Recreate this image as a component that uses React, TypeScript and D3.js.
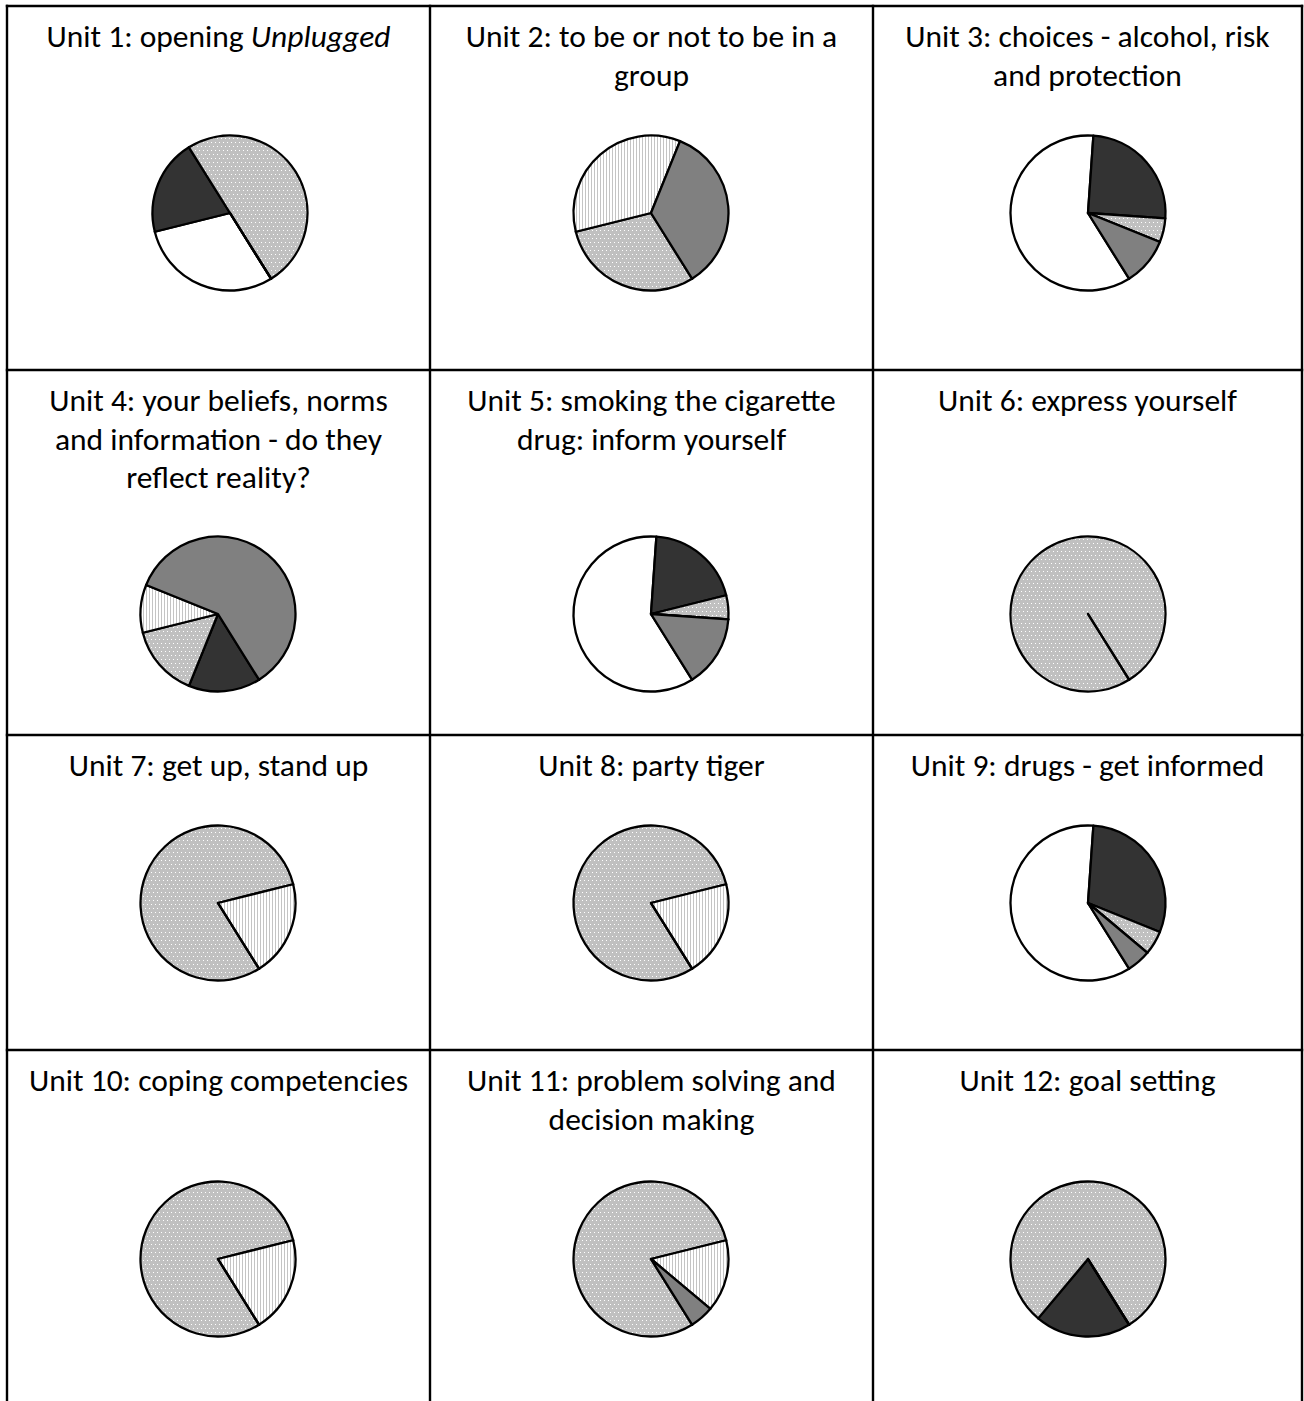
import React from "react";
import * as d3 from "d3";

// ---- Data ----
const unitTitles: string[][] = [
  ["Unit 1: opening *Unplugged*"],
  ["Unit 2: to be or not to be in a", "group"],
  ["Unit 3: choices - alcohol, risk", "and protection"],
  ["Unit 4: your beliefs, norms", "and information - do they", "reflect reality?"],
  ["Unit 5: smoking the cigarette", "drug: inform yourself"],
  ["Unit 6: express yourself"],
  ["Unit 7: get up, stand up"],
  ["Unit 8: party tiger"],
  ["Unit 9: drugs - get informed"],
  ["Unit 10: coping competencies"],
  ["Unit 11: problem solving and", "decision making"],
  ["Unit 12: goal setting"],
];

// categories in drawing order (clockwise)
const categories = ["Category A", "Category B", "Category C", "Category D", "Category E"];

// percentage of answers per unit (Unit 1 ... Unit 12)
const seriesA: number[] = [30, 0, 60, 0, 60, 0, 0, 0, 60, 0, 0, 0];
const seriesB: number[] = [20, 0, 25, 15, 20, 0, 0, 0, 30, 0, 0, 20];
const seriesC: number[] = [50, 30, 5, 15, 5, 100, 80, 80, 5, 80, 80, 80];
const seriesD: number[] = [0, 35, 0, 10, 0, 0, 20, 20, 0, 20, 15, 0];
const seriesE: number[] = [0, 35, 10, 60, 15, 0, 0, 0, 5, 0, 5, 0];
const allSeries = [seriesA, seriesB, seriesC, seriesD, seriesE];

// ---- Layout ----
const W = 1304;
const H = 1401;
const colLines = [7, 430, 873, 1302];
const rowLines = [6, 370, 735, 1050];
const rowPieY = [213, 614, 903, 1259];
const colPieX = [218, 651, 1088];
const pieXOffset = [12, 0, 0, 0, 0, 0, 0, 0, 0, 0, 0, 0];
const R = 77.5;
const startDeg = 148;

const fills = ["#ffffff", "#333333", "url(#dots)", "url(#stripes)", "#808080"];

function Title({ lines, cx, top }: { lines: string[]; cx: number; top: number }) {
  return (
    <text
      x={cx}
      textAnchor="middle"
      fontFamily="Carlito, Calibri, Lato, sans-serif"
      fontSize={31.5}
      fill="#000"
    >
      {lines.map((ln, i) => {
        const parts = ln.split("*");
        return (
          <tspan key={i} x={cx} y={top + 41 + i * 38.5}>
            {parts.map((p, j) =>
              j % 2 === 1 ? (
                <tspan key={j} fontStyle="italic">{p}</tspan>
              ) : (
                <tspan key={j}>{p}</tspan>
              )
            )}
          </tspan>
        );
      })}
    </text>
  );
}

export default function App() {
  const pie = d3
    .pie<number>()
    .sort(null)
    .value((d) => d)
    .startAngle((startDeg * Math.PI) / 180)
    .endAngle(((startDeg + 360) * Math.PI) / 180);
  const arc = d3.arc<d3.PieArcDatum<number>>().innerRadius(0).outerRadius(R);

  return (
    <svg
      width={W}
      height={H}
      style={{ position: "absolute", left: 0, top: 0, background: "#fff" }}
    >
      <defs>
        <pattern id="dots" width={4} height={8} patternUnits="userSpaceOnUse">
          <rect width={4} height={8} fill="#c0c0c0" />
          <rect x={1} y={1} width={1} height={1} fill="#ffffff" />
          <rect x={3} y={5} width={1} height={1} fill="#ffffff" />
        </pattern>
        <pattern id="stripes" width={3} height={3} patternUnits="userSpaceOnUse">
          <rect width={3} height={3} fill="#ffffff" />
          <rect x={0} y={0} width={1} height={3} fill="#c4c4c4" />
        </pattern>
      </defs>

      {/* table grid */}
      <g stroke="#000" strokeWidth={2.4}>
        {colLines.map((x, i) => (
          <line key={"c" + i} x1={x} x2={x} y1={rowLines[0] - 1.2} y2={H} />
        ))}
        {rowLines.map((y, i) => (
          <line key={"r" + i} x1={colLines[0] - 1.2} x2={colLines[3] + 1.2} y1={y} y2={y} />
        ))}
      </g>

      {unitTitles.map((lines, u) => {
        const row = Math.floor(u / 3);
        const col = u % 3;
        const cellCx = (colLines[col] + colLines[col + 1]) / 2;
        const values = allSeries.map((s) => s[u]);
        const arcs = pie(values);
        const px = colPieX[col] + pieXOffset[u];
        const py = rowPieY[row];
        return (
          <g key={u}>
            <Title lines={lines} cx={cellCx} top={rowLines[row]} />
            <g transform={`translate(${px},${py})`}>
              {arcs.map((a, k) => (
                <path
                  key={k}
                  d={arc(a) || ""}
                  fill={fills[k]}
                  stroke="#000"
                  strokeWidth={2.3}
                  strokeLinejoin="round"
                >
                  <title>{categories[k]}</title>
                </path>
              ))}
            </g>
          </g>
        );
      })}
    </svg>
  );
}
